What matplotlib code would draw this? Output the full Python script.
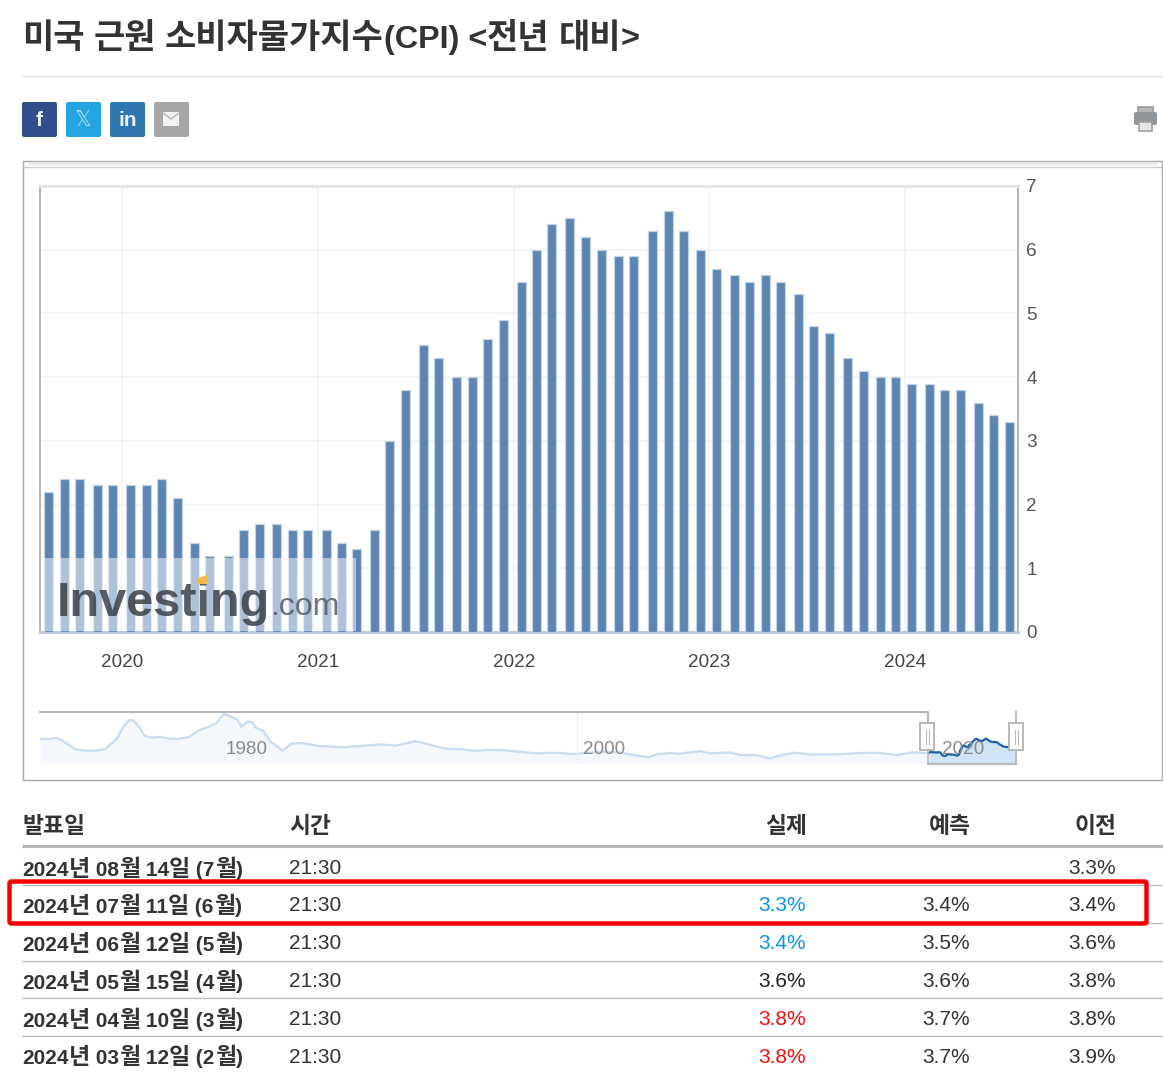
import re
import matplotlib
matplotlib.use("Agg")
import matplotlib.pyplot as plt
import matplotlib.dates as mdates
from matplotlib.patches import Rectangle, FancyBboxPatch, Polygon
import pandas as pd

W, H = 1163, 1084
plt.rcParams['font.family'] = ['Liberation Sans', 'Noto Sans CJK KR', 'DejaVu Sans']

# --- data ---
title = "미국 근원 소비자물가지수(CPI) <전년 대비>"

release_dates = [
    "2019-08-13", "2019-09-12", "2019-10-10", "2019-11-13", "2019-12-11",
    "2020-01-14", "2020-02-13", "2020-03-11", "2020-04-10", "2020-05-12", "2020-06-10",
    "2020-07-14", "2020-08-12", "2020-09-11", "2020-10-13", "2020-11-12", "2020-12-10",
    "2021-01-13", "2021-02-10", "2021-03-10", "2021-04-13", "2021-05-12", "2021-06-10",
    "2021-07-13", "2021-08-11", "2021-09-14", "2021-10-13", "2021-11-10", "2021-12-10",
    "2022-01-12", "2022-02-10", "2022-03-10", "2022-04-12", "2022-05-11", "2022-06-10",
    "2022-07-13", "2022-08-10", "2022-09-13", "2022-10-13", "2022-11-10", "2022-12-13",
    "2023-01-12", "2023-02-14", "2023-03-14", "2023-04-12", "2023-05-10", "2023-06-13",
    "2023-07-12", "2023-08-10", "2023-09-13", "2023-10-12", "2023-11-14", "2023-12-12",
    "2024-01-11", "2024-02-13", "2024-03-12", "2024-04-10", "2024-05-15", "2024-06-12",
    "2024-07-11",
]
cpi_values = [
    2.2, 2.4, 2.4, 2.3, 2.3,
    2.3, 2.3, 2.4, 2.1, 1.4, 1.2,
    1.2, 1.6, 1.7, 1.7, 1.6, 1.6,
    1.6, 1.4, 1.3, 1.6, 3.0, 3.8,
    4.5, 4.3, 4.0, 4.0, 4.6, 4.9,
    5.5, 6.0, 6.4, 6.5, 6.2, 6.0,
    5.9, 5.9, 6.3, 6.6, 6.3, 6.0,
    5.7, 5.6, 5.5, 5.6, 5.5, 5.3,
    4.8, 4.7, 4.3, 4.1, 4.0, 4.0,
    3.9, 3.9, 3.8, 3.8, 3.6, 3.4,
    3.3,
]
y_ticks = [0, 1, 2, 3, 4, 5, 6, 7]
year_ticks = [2020, 2021, 2022, 2023, 2024]

# long history shown in the navigator
nav_years = [1970.08, 1970.5, 1971.0, 1971.25, 1971.7, 1972.1, 1973.0, 1973.7, 1974.3, 1974.8,
             1975.06, 1975.3, 1975.6, 1975.9, 1976.3, 1976.8, 1977.2, 1977.8, 1978.4, 1978.9,
             1979.5, 1979.9, 1980.3, 1980.6, 1981.05, 1981.3, 1981.65, 1981.9, 1982.1, 1982.5,
             1982.9, 1983.2, 1983.6, 1984.1, 1984.7, 1985.6, 1987.0, 1987.9, 1989.1, 1989.9,
             1991.0, 1992.2, 1992.8, 1993.5, 1994.2, 1995.25, 1996.1, 1997.75, 1998.7, 1999.8,
             2001.3, 2002.4, 2003.1, 2004.0, 2004.4, 2005.1, 2005.7, 2006.3, 2006.85, 2007.4,
             2008.5, 2009.1, 2010.0, 2010.75, 2011.3, 2012.05, 2013.2, 2014.5, 2016.1, 2016.9,
             2017.8, 2018.7, 2019.55]
nav_values = [6.5, 6.5, 6.8, 6.2, 4.6, 3.2, 2.7, 3.3, 6.2, 10.8,
              12.4, 12.2, 10.3, 7.5, 6.9, 7.1, 6.6, 6.5, 7.1, 9.1,
              10.3, 11.4, 14.2, 13.7, 12.7, 10.3, 11.9, 11.7, 10.0, 9.1,
              5.8, 4.6, 2.8, 5.1, 5.2, 4.3, 3.9, 4.3, 4.8, 4.4,
              5.8, 4.1, 3.4, 3.3, 2.8, 3.1, 2.9, 2.0, 2.2, 1.8,
              2.5, 2.3, 1.5, 0.8, 1.6, 2.1, 1.9, 2.3, 2.7, 2.0,
              2.3, 1.5, 1.4, 0.4, 1.3, 2.2, 1.6, 1.7, 2.2, 2.1,
              1.5, 2.3, 2.1]
nav_labels = [1980, 2000, 2020]

table_header = ["발표일", "시간", "실제", "예측", "이전"]
table_dates = ["2024년 08월 14일 (7월)", "2024년 07월 11일 (6월)", "2024년 06월 12일 (5월)",
               "2024년 05월 15일 (4월)", "2024년 04월 10일 (3월)", "2024년 03월 12일 (2월)"]
table_times = ["21:30"] * 6
table_actual = ["", "3.3%", "3.4%", "3.6%", "3.8%", "3.8%"]
table_forecast = ["", "3.4%", "3.5%", "3.6%", "3.7%", "3.7%"]
table_previous = ["3.3%", "3.4%", "3.6%", "3.8%", "3.8%", "3.9%"]
actual_colors = ["#333333", "#0a94e8", "#0a94e8", "#222222", "#f01010", "#f01010"]


def px_axes(left, top, right, bottom, **kw):
    return fig.add_axes([left / W, 1 - bottom / H, (right - left) / W, (bottom - top) / H], **kw)


fig = plt.figure(figsize=(W / 100, H / 100), dpi=100, facecolor="white")

# --- main bar chart ---
dates = pd.to_datetime(release_dates)
ax = px_axes(40, 186, 1018, 632)
bar_shift = pd.Timedelta(days=3)  # columns sit slightly right of their date in the original
ax.bar(dates + bar_shift, cpi_values, width=16.8, color="#5c85b2", edgecolor="#c3d3e6", linewidth=0.9, zorder=3)

# x scale: 2020 sits at px 122, 2024 at px 905
x2020 = mdates.date2num(pd.Timestamp("2020-01-01"))
x2024 = mdates.date2num(pd.Timestamp("2024-01-01"))
px_day = (905 - 122) / (x2024 - x2020)
ax.set_xlim(x2020 - (122 - 40) / px_day, x2020 + (1018 - 122) / px_day)
ax.set_ylim(0, 7)
ax.set_xticks([mdates.date2num(pd.Timestamp(f"{y}-01-01")) for y in year_ticks])
ax.set_xticklabels([str(y) for y in year_ticks])
ax.set_yticks(y_ticks)
ax.yaxis.tick_right()
ax.tick_params(axis="x", length=0, pad=16, labelsize=13.6, labelcolor="#444444")
ax.tick_params(axis="y", length=0, pad=6, labelsize=13.6, labelcolor="#555555")
ax.grid(True, color="#f2f2f2", linewidth=1.1, zorder=0)
ax.set_axisbelow(True)
for side in ["left", "right"]:
    ax.spines[side].set_color("#b4b4b4")
    ax.spines[side].set_linewidth(1.4)
ax.spines["top"].set_color("#e4e4e4")
ax.spines["top"].set_linewidth(2.0)
ax.spines["bottom"].set_color("#bccadb")
ax.spines["bottom"].set_linewidth(2.2)

# --- navigator strip ---
bar_years = [d.year + (d.dayofyear - 1) / 365.25 for d in dates]
nav = px_axes(40, 711, 1016, 763)
nav.set_xlim(1970.08, 2024.46)
nav.set_ylim(-1.0, 15.2)
nav.axis("off")
nav.fill_between(nav_years, nav_values, -1.0, color="#f4f8fd", linewidth=0)
nav.plot(nav_years, nav_values, color="#cbddf0", linewidth=1.7)
nav.fill_between(bar_years, cpi_values, -1.0, color="#cfe3f9", linewidth=0)
nav.plot(bar_years, cpi_values, color="#1b62a8", linewidth=1.6)
nav.axvline(2000, color="#f0f0f0", linewidth=1)

# --- page furniture, in pixel coordinates ---
pg = fig.add_axes([0, 0, 1, 1], zorder=10)
pg.set_xlim(0, W)
pg.set_ylim(H, 0)
pg.axis("off")
pg.patch.set_alpha(0)
renderer = fig.canvas.get_renderer()


def hline(y, x0=22, x1=1163, color="#bbbbbb", lw=1.0):
    pg.plot([x0, x1], [y, y], color=color, linewidth=lw, solid_capstyle="butt")


def text_width(s, size, weight):
    # the bar keeps trailing spaces in the measure
    t = pg.text(0, 0, s + "|", fontsize=size, fontweight=weight)
    w = t.get_window_extent(renderer).width
    t.set_text("|")
    w -= t.get_window_extent(renderer).width
    t.remove()
    return w


def mixed_text(x, baseline, s, latin_size, korean_size, weight="bold", color="#333333"):
    # latin and hangul come at different sizes in the original page
    for run in re.findall(r"[\uac00-\ud7a3]+|[^\uac00-\ud7a3]+", s):
        size = korean_size if re.match(r"[\uac00-\ud7a3]", run) else latin_size
        pg.text(x, baseline, run, fontsize=size, fontweight=weight, color=color, va="baseline", ha="left")
        x += text_width(run, size, weight)


mixed_text(22, 48, title, 23.3, 24.5)
hline(76, color="#dddddd", lw=1.0)

# share buttons
buttons = [(22, "#324f8d", "f"), (66, "#22a5e0", "\U0001D54F"), (110, "#2e77b1", "in"), (154, "#a6a6a6", "")]
for bx, col, glyph in buttons:
    pg.add_patch(FancyBboxPatch((bx + 1, 103), 33, 33, boxstyle="round,pad=1,rounding_size=2",
                                facecolor=col, edgecolor="none"))
    if glyph:
        pg.text(bx + 17.5, 120, glyph, color="#a8dcf5" if glyph == "\U0001D54F" else "#eef3f8", fontsize=15,
                fontweight="normal" if glyph == "\U0001D54F" else "bold", ha="center", va="center")
pg.add_patch(Rectangle((163, 112), 16, 14, facecolor="#f2f2f2", edgecolor="none"))
pg.plot([163, 171, 179], [113, 119, 113], color="#b5b5b5", linewidth=1)

# printer icon
pg.add_patch(Rectangle((1138, 107), 15, 7, facecolor="#b8b8b8", edgecolor="#9a9a9a", linewidth=1.2))
pg.add_patch(FancyBboxPatch((1135, 113), 21, 11, boxstyle="round,pad=1,rounding_size=2",
                            facecolor="#8f9699", edgecolor="none"))
pg.add_patch(Rectangle((1139, 122), 13, 9, facecolor="#e6e6e6", edgecolor="#a0a0a0", linewidth=1.2))

# chart frame with the soft strip along the top
pg.add_patch(Rectangle((22.5, 161), 1139.5, 619, facecolor="none", edgecolor="#aaaaaa", linewidth=1.0))
hline(167, 22, 1162, color="#c4c4c4", lw=1.0)
for i, shade in enumerate(["#e2e2e2", "#e8e8e8", "#eeeeee", "#f3f3f3", "#f8f8f8"]):
    hline(162 + i, 28, 1156, color=shade, lw=1.0)

# watermark
pg.add_patch(Rectangle((42, 558), 314, 73, facecolor="white", alpha=0.5, edgecolor="none"))
pg.text(57, 616, "Investing", fontsize=35, fontweight="bold", color="#3b4048", alpha=0.85, va="baseline")
pg.text(270, 615, ".com", fontsize=23, color="#555a60", alpha=0.85, va="baseline")
pg.add_patch(Polygon([[198, 578], [207, 575], [207, 584], [198, 584]], facecolor="#f7bb4d",
                     edgecolor="none", zorder=5))

# navigator outline, handles and axis labels
pg.plot([40, 928, 928], [711.5, 711.5, 723], color="#b8b8b8", linewidth=1.6)
pg.plot([1016, 1016], [711, 723], color="#b8b8b8", linewidth=1.2)
pg.plot([928, 1016], [764, 764], color="#b8b8b8", linewidth=1.6)
pg.plot([928, 928], [750, 764], color="#b8b8b8", linewidth=1.2)
pg.plot([1016, 1016], [750, 764], color="#b8b8b8", linewidth=1.2)
for hx in [920, 1009]:
    pg.add_patch(Rectangle((hx, 723), 14, 27, facecolor="white", edgecolor="#b8b8b8", linewidth=1.4))
    pg.plot([hx + 5.5, hx + 5.5], [730, 744], color="#b8b8b8", linewidth=0.8)
    pg.plot([hx + 8.5, hx + 8.5], [730, 744], color="#b8b8b8", linewidth=0.8)
for year, lx in zip(nav_labels, [246.5, 604.5, 963]):
    pg.text(lx, 750, str(year), fontsize=13.6, color="#8a8a8a", ha="center", va="center")

# --- table ---
header_left = [22, 289]
header_right = [806, 970, 1116]
for label, lx in zip(table_header[:2], header_left):
    pg.text(lx, 833, label, fontsize=16.4, fontweight="bold", color="#333333", va="baseline", ha="left")
for label, rx in zip(table_header[2:], header_right):
    pg.text(rx + 1, 833, label, fontsize=16.4, fontweight="bold", color="#333333", va="baseline", ha="right")
hline(846, color="#b8b8b8", lw=2.2)
for ly in [885, 923, 961, 998, 1036]:
    hline(ly, color="#bdbdbd", lw=1.0)

date_baselines = [876, 913, 951, 989, 1027, 1064]
num_baselines = [874, 911, 949, 987, 1025, 1063]
for i, (dy, ny) in enumerate(zip(date_baselines, num_baselines)):
    mixed_text(22, dy, table_dates[i], 15, 16.6)
    pg.text(289, ny, table_times[i], fontsize=15, color="#333333", va="baseline", ha="left")
    pg.text(806, ny, table_actual[i], fontsize=15, color=actual_colors[i], va="baseline", ha="right")
    pg.text(970, ny, table_forecast[i], fontsize=15, color="#333333", va="baseline", ha="right")
    pg.text(1116, ny, table_previous[i], fontsize=15, color="#333333", va="baseline", ha="right")

# red highlight box
pg.add_patch(FancyBboxPatch((9.5, 881.5), 1137, 42, boxstyle="round,pad=0,rounding_size=2",
                            facecolor="none", edgecolor="#f50000", linewidth=3.2, zorder=6))

fig.savefig("out.png", dpi=100)
